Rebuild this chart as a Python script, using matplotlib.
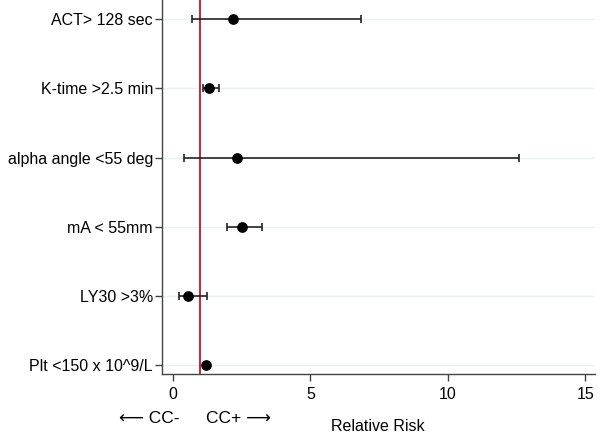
import matplotlib
matplotlib.use("Agg")
import matplotlib.pyplot as plt

plt.rcParams['font.family'] = ['Liberation Sans', 'DejaVu Sans']

labels = ["ACT> 128 sec", "K-time >2.5 min", "alpha angle <55 deg",
          "mA < 55mm", "LY30 >3%", "Plt <150 x 10^9/L"]
rr = [2.18, 1.32, 2.34, 2.51, 0.53, 1.21]
ci_low = [0.70, 1.08, 0.41, 1.95, 0.23, 1.21]
ci_high = [6.83, 1.67, 12.58, 3.25, 1.25, 1.21]
xticks = [0, 5, 10, 15]

fig = plt.figure(figsize=(6.04, 4.40), dpi=100)
ax = fig.add_axes([162/604, 66/440, 433/604, 374/440])

n = len(labels)
ypos = list(range(n, 0, -1))

for y in ypos:
    ax.axhline(y, color='#e8f2f2', lw=1.0, zorder=0)

ax.axvline(1, color='#c8102e', lw=1.3, zorder=1)

err_lo = [r - l for r, l in zip(rr, ci_low)]
err_hi = [h - r for r, h in zip(rr, ci_high)]
ax.errorbar(rr, ypos, xerr=[err_lo, err_hi], fmt='o', color='black',
            ecolor='#222222', elinewidth=1.2, capsize=3, capthick=1.2,
            markersize=6.7, zorder=3)

ax.set_xlim(-0.4, 15.35)
ax.set_ylim(0.87, 6.28)
ax.set_xticks(xticks)
ax.set_xticklabels([str(t) for t in xticks], fontsize=11.5)
ax.set_yticks(ypos)
ax.set_yticklabels(labels, fontsize=11.5)
ax.tick_params(axis='y', length=5, width=1, color='#444444', pad=1.5)
ax.tick_params(axis='x', length=5, width=1, color='#444444', pad=4)

for s in ['top', 'right']:
    ax.spines[s].set_visible(False)
for s in ['left', 'bottom']:
    ax.spines[s].set_color('#444444')
    ax.spines[s].set_linewidth(1.0)

fig.text(149/604, 1 - 418/440, "\u27f5 CC-", ha='center', va='center', fontsize=12.5)
fig.text(239/604, 1 - 418/440, "CC+ \u27f6", ha='center', va='center', fontsize=12.5)
fig.text(378/604, 1 - 426/440, "Relative Risk", ha='center', va='center', fontsize=11.5)

fig.savefig("out.png", dpi=100)
